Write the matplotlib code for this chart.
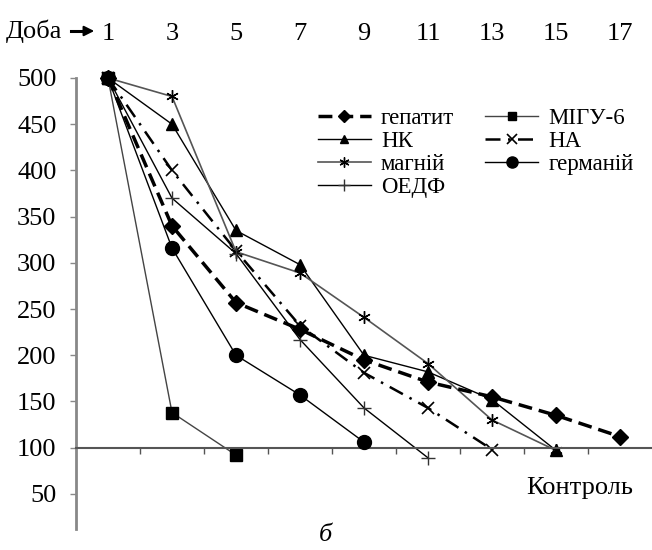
import matplotlib.pyplot as plt

plt.rcParams['font.family'] = ['Liberation Serif', 'DejaVu Serif']

# дані: доба -> показник
top_days = [1, 3, 5, 7, 9, 11, 13, 15, 17]
yticks = [50, 100, 150, 200, 250, 300, 350, 400, 450, 500]

hep_days = [1, 3, 5, 7, 9, 11, 13, 15, 17]
hep_vals = [500, 340, 257, 228, 195, 171, 155, 135, 112]

migu_days = [1, 3, 5]
migu_vals = [500, 138, 92]

nk_days = [1, 3, 5, 7, 9, 11, 13, 15]
nk_vals = [500, 450, 335, 298, 200, 182, 152, 97]

na_days = [1, 3, 5, 7, 9, 11, 13]
na_vals = [500, 400, 313, 232, 181, 143, 98]

mg_days = [1, 3, 5, 7, 9, 11, 13, 15]
mg_vals = [500, 480, 312, 289, 241, 191, 130, 97]

ge_days = [1, 3, 5, 7, 9]
ge_vals = [500, 316, 200, 157, 106]

oedf_days = [1, 3, 5, 7, 9, 11]
oedf_vals = [500, 370, 310, 217, 143, 89]

FS = 19

fig = plt.figure(figsize=(6.52, 5.5), dpi=100)
W, H = 652, 550
ax = fig.add_axes([76 / W, 1 - 529 / H, 576 / W, 451 / H])
ax.set_xlim(0, 18)
ax.set_ylim(12, 500)

ax.plot(hep_days, hep_vals, color='black', lw=2.5, ls=(0, (4, 2)),
        marker='D', ms=8, label='гепатит', clip_on=False, zorder=5)
ax.plot(migu_days, migu_vals, color='#444444', lw=1.0,
        marker='s', ms=8, mfc='black', mec='black', label='МІГУ-6', clip_on=False)
ax.plot(nk_days, nk_vals, color='black', lw=1.0,
        marker='^', ms=8, label='НК', clip_on=False)
ax.plot(na_days, na_vals, color='black', lw=1.8, ls=(0, (6, 3, 1, 3)),
        marker='x', ms=9, mew=1.2, label='НА', clip_on=False)
ax.plot(mg_days, mg_vals, color='#555555', lw=1.2,
        marker=(6, 2, 0), ms=9, mec='black', mew=1.0, label='магній', clip_on=False)
ax.plot(ge_days, ge_vals, color='black', lw=1.0,
        marker='o', ms=10, label='германій', clip_on=False, zorder=4)
ax.plot(oedf_days, oedf_vals, color='black', lw=1.0,
        marker='+', ms=10, mec='#333333', mew=1.0, label='ОЕДФ', clip_on=False)

# осі
for s in ['top', 'right']:
    ax.spines[s].set_visible(False)
ax.spines['bottom'].set_position(('data', 100))
ax.spines['bottom'].set_color('#555555')
ax.spines['bottom'].set_linewidth(1.5)
ax.spines['left'].set_color('#888888')
ax.spines['left'].set_linewidth(2)

ax.set_xticks([2, 4, 6, 8, 10, 12, 14, 16])
ax.set_xticklabels([])
ax.tick_params(axis='x', direction='out', length=4, width=1, color='#555555')
ax.set_yticks(yticks)
ax.set_yticklabels([str(v) for v in yticks], fontsize=FS)
ax.tick_params(axis='y', direction='out', length=4, width=1, color='#888888', pad=10)

# верхній ряд з номерами діб
top = ax.secondary_xaxis('top')
top.set_xticks(top_days)
top.set_xticklabels([str(d) for d in top_days], fontsize=FS)
top.tick_params(length=0, pad=24)
top.spines['top'].set_visible(False)

fig.text(6 / W, 1 - 31 / H, 'Доба', fontsize=FS, va='center', ha='left')
fig.add_artist(plt.Line2D([71 / W, 86 / W], [1 - 31 / H, 1 - 31 / H], color='black', lw=2.2))
ax.annotate('', xy=(97 / W, 1 - 31 / H), xytext=(82 / W, 1 - 31 / H),
            xycoords='figure fraction', textcoords='figure fraction',
            arrowprops=dict(arrowstyle='-|>', color='black', lw=1.5, mutation_scale=15))

ax.text(15.75, 56, 'Контроль', fontsize=FS, ha='center', va='center')
fig.text(325 / W, 1 - 535 / H, 'б', fontsize=FS, style='italic', ha='center', va='center')

# легенда у два стовпці
handles, labels = ax.get_legend_handles_labels()
order = ['гепатит', 'НК', 'магній', 'ОЕДФ', 'МІГУ-6', 'НА', 'германій']
hmap = dict(zip(labels, handles))
ax.legend([hmap[k] for k in order], order, ncol=2, loc='upper left',
          bbox_to_anchor=(318 / W, 1 - 108 / H), bbox_transform=fig.transFigure,
          frameon=False, fontsize=16.5, borderpad=0, borderaxespad=0,
          handlelength=2.3, handletextpad=0.45, columnspacing=1.35,
          labelspacing=0.08, markerscale=0.8)

fig.savefig('out.png', dpi=100)
